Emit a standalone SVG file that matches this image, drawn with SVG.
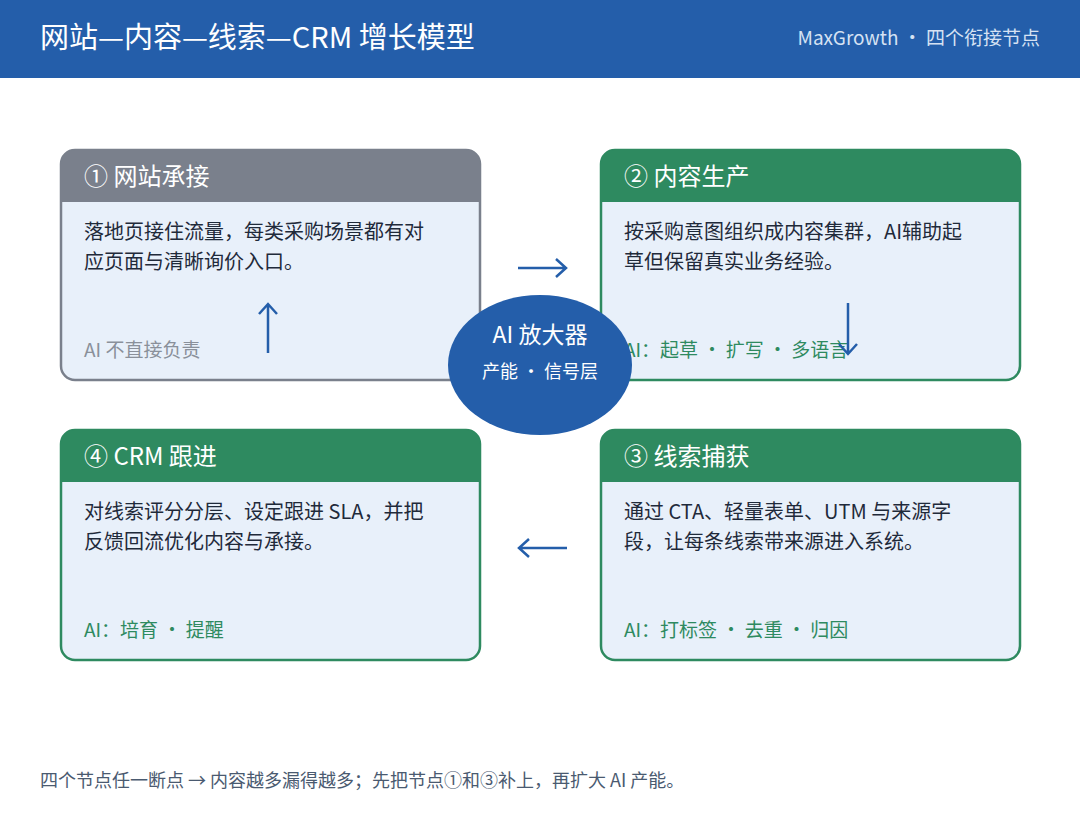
<svg xmlns="http://www.w3.org/2000/svg" width="1080" height="820" viewBox="0 0 1080 820">
<style>
text{font-family:"Noto Sans CJK SC","Noto Sans",sans-serif}
.card{fill:#E8F0FA;stroke-width:2.5}
.ht{fill:#fff;font-size:24px}
.bt{fill:#1f2a3a;font-size:20px}
.ai{font-size:19px}
.arr{stroke:#245EAA;stroke-width:2.5;fill:none}
</style>
<rect x="0" y="0" width="1080" height="78" fill="#245EAA"/>
<text x="40" y="48" fill="#fff" font-size="29">网站—内容—线索—CRM 增长模型</text>
<text x="1040" y="45" fill="#D6E2F3" font-size="19" text-anchor="end">MaxGrowth · 四个衔接节点</text>
<g id="n1">
<rect class="card" x="61" y="150" width="419" height="230" rx="14" stroke="#7A808C"/>
<path d="M61,202 V164 a14,14 0 0 1 14,-14 H466 a14,14 0 0 1 14,14 V202 Z" fill="#7A808C"/>
<text class="ht" x="84" y="185">① 网站承接</text>
<text class="bt" x="84" y="239">落地页接住流量，每类采购场景都有对</text>
<text class="bt" x="84" y="269">应页面与清晰询价入口。</text>
<text class="ai" x="84" y="357" fill="#8A909A">AI 不直接负责</text>
</g>
<g id="n2">
<rect class="card" x="601" y="150" width="419" height="230" rx="14" stroke="#2E8A60"/>
<path d="M601,202 V164 a14,14 0 0 1 14,-14 H1006 a14,14 0 0 1 14,14 V202 Z" fill="#2E8A60"/>
<text class="ht" x="624" y="185">② 内容生产</text>
<text class="bt" x="624" y="239">按采购意图组织成内容集群，AI辅助起</text>
<text class="bt" x="624" y="269">草但保留真实业务经验。</text>
<text class="ai" x="624" y="357" fill="#2E8A60">AI：起草 · 扩写 · 多语言</text>
</g>
<g id="n3">
<rect class="card" x="601" y="430" width="419" height="230" rx="14" stroke="#2E8A60"/>
<path d="M601,482 V444 a14,14 0 0 1 14,-14 H1006 a14,14 0 0 1 14,14 V482 Z" fill="#2E8A60"/>
<text class="ht" x="624" y="465">③ 线索捕获</text>
<text class="bt" x="624" y="519">通过 CTA、轻量表单、UTM 与来源字</text>
<text class="bt" x="624" y="549">段，让每条线索带来源进入系统。</text>
<text class="ai" x="624" y="637" fill="#2E8A60">AI：打标签 · 去重 · 归因</text>
</g>
<g id="n4">
<rect class="card" x="61" y="430" width="419" height="230" rx="14" stroke="#2E8A60"/>
<path d="M61,482 V444 a14,14 0 0 1 14,-14 H466 a14,14 0 0 1 14,14 V482 Z" fill="#2E8A60"/>
<text class="ht" x="84" y="465">④ CRM 跟进</text>
<text class="bt" x="84" y="519">对线索评分分层、设定跟进 SLA，并把</text>
<text class="bt" x="84" y="549">反馈回流优化内容与承接。</text>
<text class="ai" x="84" y="637" fill="#2E8A60">AI：培育 · 提醒</text>
</g>
<g id="connectors">
<path class="arr" d="M518,268 H566 M556,259 L566,268 L556,277"/>
<path class="arr" d="M848,303 V354 M839,344 L848,354 L857,344"/>
<path class="arr" d="M567,548 H519 M529,539 L519,548 L529,557"/>
<path class="arr" d="M268,353 V304 M259,314 L268,304 L277,314"/>
</g>
<g id="hub">
<ellipse cx="540" cy="365" rx="92" ry="70" fill="#245EAA"/>
<text x="540" y="343" fill="#fff" font-size="23" text-anchor="middle">AI 放大器</text>
<text x="540" y="378" fill="#fff" font-size="18" text-anchor="middle">产能 · 信号层</text>
</g>
<text x="40" y="787" fill="#4A5A70" font-size="18">四个节点任一断点 → 内容越多漏得越多；先把节点①和③补上，再扩大 AI 产能。</text>
</svg>
